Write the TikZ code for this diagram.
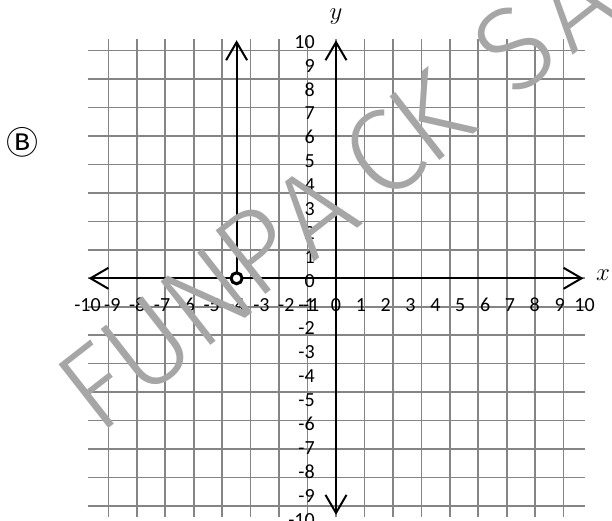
\documentclass[tikz,border=0pt]{standalone}
\usepackage{fontspec}
\setmainfont{Carlito}
\newfontfamily\symfont{Noto Sans CJK SC}
\IfFontExistsTF{Fira Sans Light}{\newfontfamily\wmfont{Fira Sans Light}}{\newfontfamily\wmfont{Fira Sans}}
\usetikzlibrary{arrows.meta}
\tikzset{
  gridline/.style={draw=black!48, line width=1.6pt},
  axisline/.style={draw=black, line width=2pt},
  barb/.tip={Straight Barb[length=18pt,width=21pt,line width=2pt]},
  ticklbl/.style={font=\fontsize{20}{20}\selectfont, inner sep=0pt},
  axislbl/.style={font=\fontsize{32}{32}\selectfont, inner sep=0pt},
  hole/.style={circle, draw=black, line width=3pt, fill=white, minimum size=11pt, inner sep=0pt},
  wmark/.style={font=\wmfont\fontsize{118}{118}\selectfont, text=black!35, inner sep=0pt, rotate=38},
}
\begin{document}
\begin{tikzpicture}[x=1pt,y=1pt]
\useasboundingbox (0,0) rectangle (612,521);
\begin{scope}[shift={(336,242.7)}, x=24.85pt, y=23.9pt]
  \draw[gridline] (-10,-10) grid (10,10);
  \coordinate (L) at (-9.96,0);
  \coordinate (R) at (9.96,0);
  \coordinate (T) at (0,9.96);
  \coordinate (B) at (0,-9.9);
  \coordinate (HT) at (-4,9.96);
  \node[hole, draw=none, fill=none] (Hpos) at (-4,0) {};
  \draw[axisline, barb-barb] (L) -- (R);
  \draw[axisline, barb-barb] (T) -- (B);
  \draw[axisline, -barb] (Hpos.center) -- (HT);
  \node[hole] (H) at (-4,0) {};
  \foreach \i in {-10,...,10} {
    \pgfmathtruncatemacro{\k}{\i+10}
    \node[ticklbl] (xl\k) at (\i,-1.12) {\i};
    \node[ticklbl, anchor=east] (yl\k) at (-0.85,\i-0.1) {\i};
  }
\end{scope}
\node[axislbl] (ylab) at (336,504.5) {$y$};
\node[axislbl] (xlab) at (603,246) {$x$};
\node[font=\symfont\fontsize{32}{32}\selectfont, inner sep=0pt] (opt) at (22,379) {Ⓑ};
% watermark
\node[wmark] (wm1) at (96,134) {F};
\node[wmark] (wm2) at (147,176) {U};
\node[wmark] (wm3) at (207,224) {N};
\node[wmark] (wm4) at (257,271) {P};
\node[wmark] (wm5) at (314,310) {A};
\node[wmark] (wm6) at (383,366) {C};
\node[wmark] (wm7) at (430,404) {K};
\node[wmark] (wm8) at (515,473) {S};
\node[wmark] (wm9) at (573,517) {A};
\end{tikzpicture}
\end{document}
